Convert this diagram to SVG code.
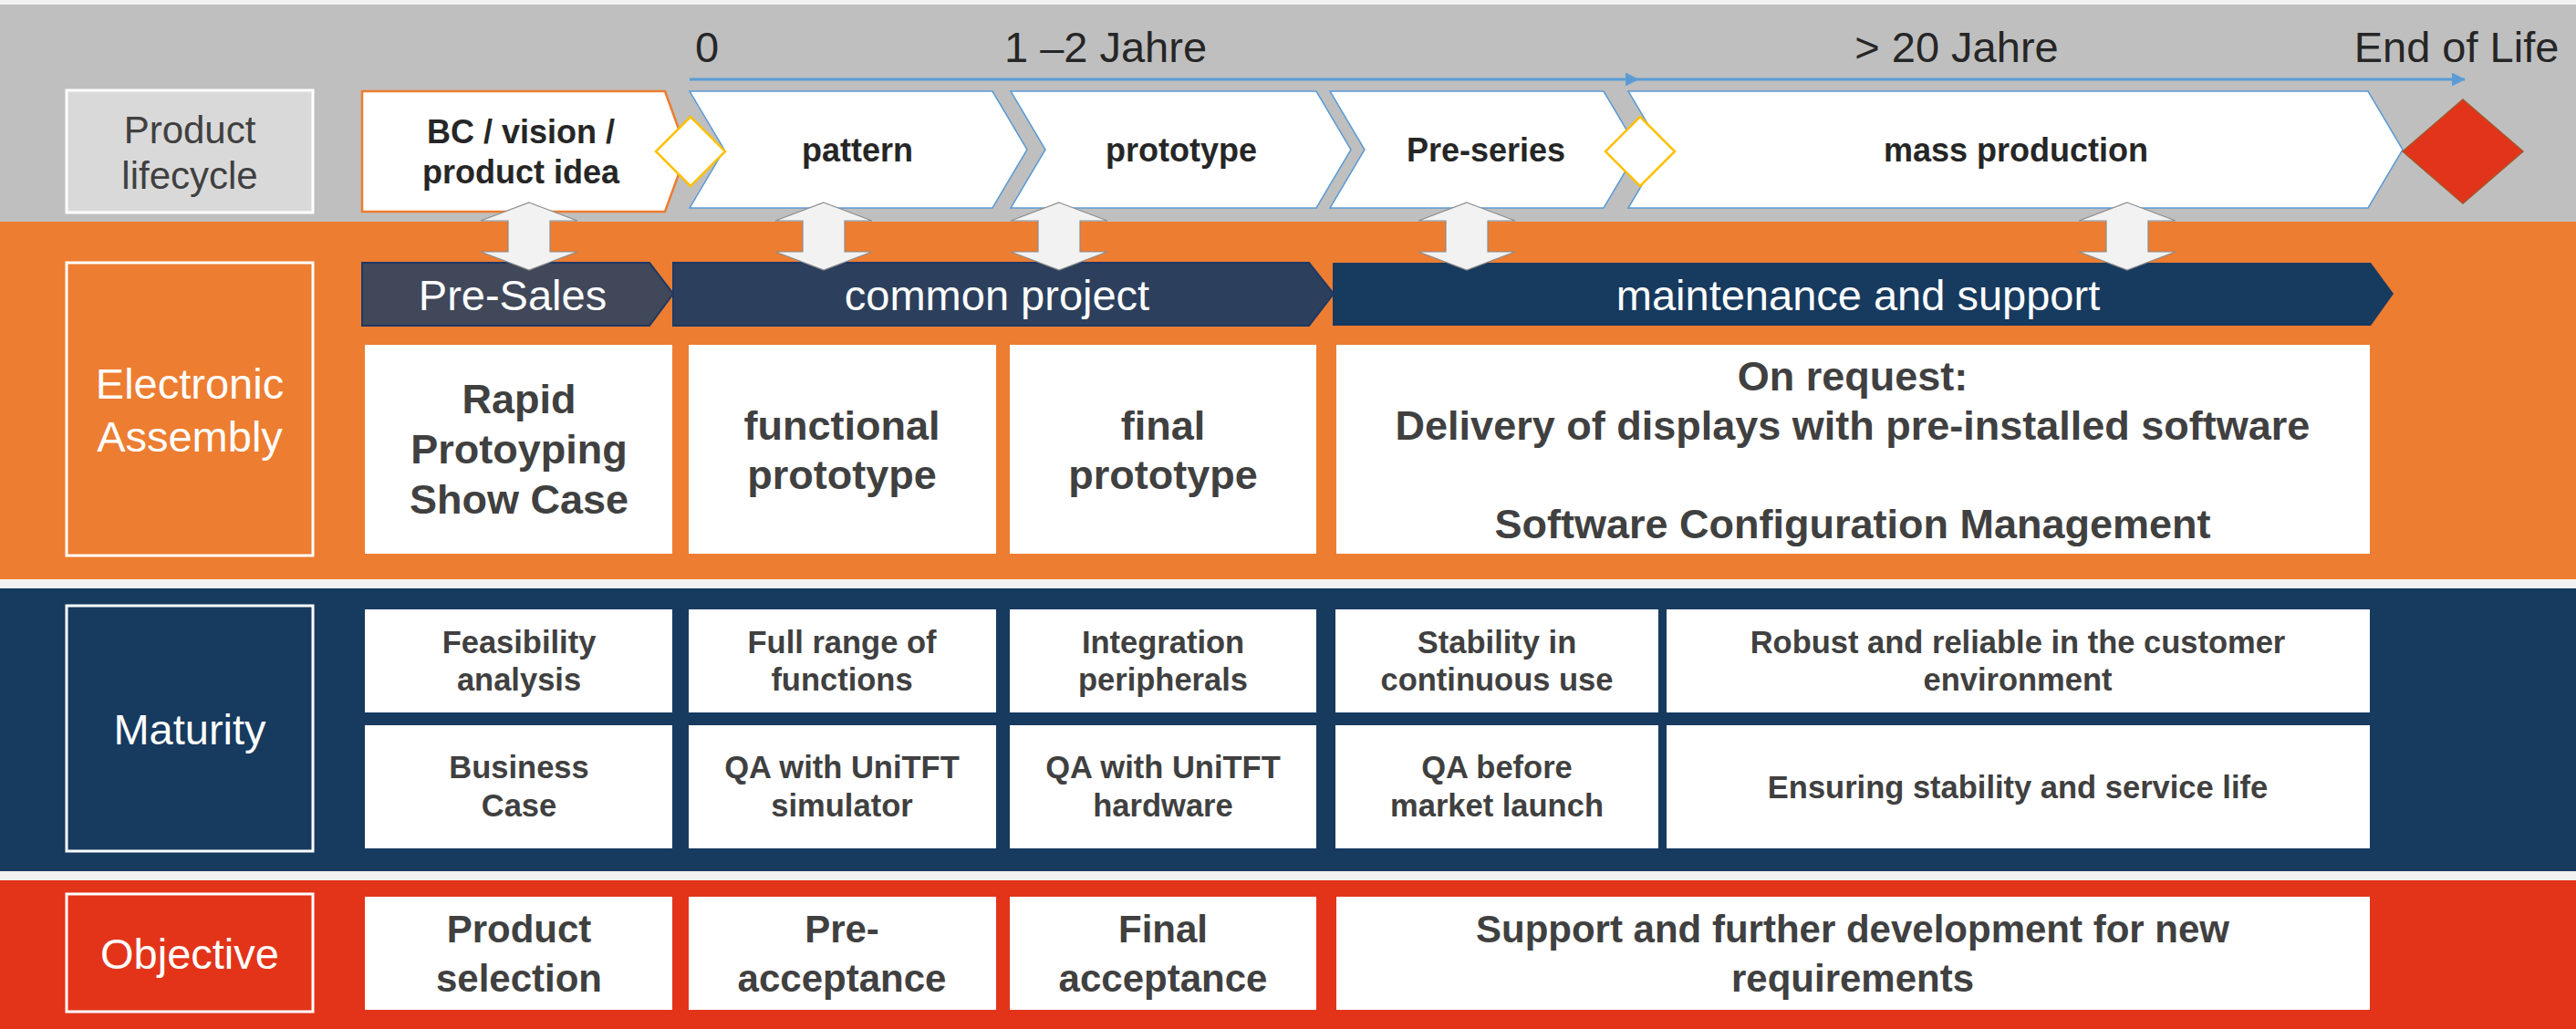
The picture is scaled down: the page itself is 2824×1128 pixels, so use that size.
<svg xmlns="http://www.w3.org/2000/svg" width="2824" height="1128" viewBox="0 0 2824 1128">
<style>
text{font-family:"Liberation Sans",Arial,sans-serif}
.tl{font-size:47px;fill:#262626;text-anchor:middle}
.chev{fill:#fff;stroke:#5b9bd5;stroke-width:1.5}
.chl{font-size:36px;font-weight:bold;fill:#262626;text-anchor:middle}
.lbl{font-size:47px;fill:#fff;text-anchor:middle}
.lbox{stroke:#fff;stroke-width:3}
.wb{fill:#fff}
.e{font-size:45px;font-weight:bold;fill:#404040;text-anchor:middle}
.m{font-size:34.5px;font-weight:bold;fill:#404040;text-anchor:middle}
.o{font-size:42px;font-weight:bold;fill:#404040;text-anchor:middle}
.ban{font-size:47px;fill:#fff;text-anchor:middle}
.darr{fill:#f2f2f2;stroke:#8c8c8c;stroke-width:1.2}
.ms{fill:#fff;stroke:#ffc000;stroke-width:2.5}
.tline{stroke:#5b9bd5;stroke-width:3;fill:none}
</style>
<defs>
<marker id="ah" markerWidth="5" markerHeight="5" refX="4.7" refY="2.5" orient="auto" markerUnits="strokeWidth">
<path d="M0,0 L5,2.5 L0,5 Z" fill="#5b9bd5"/>
</marker>
</defs>

<g id="background">
<rect x="0" y="0" width="2824" height="1128" fill="#f2f2f2"/>
<rect x="0" y="5" width="2824" height="238" fill="#bfbfbf"/>
<rect x="0" y="243" width="2824" height="392" fill="#ed7d31"/>
<rect x="0" y="645" width="2824" height="310" fill="#173a5f"/>
<rect x="0" y="965" width="2824" height="163" fill="#e3341a"/>
</g>

<g id="label-lifecycle">
<rect x="73" y="99" width="270" height="134" fill="#d9d9d9" class="lbox"/>
<text class="lbl" style="fill:#404040;font-size:42px" x="208" y="157">Product</text>
<text class="lbl" style="fill:#404040;font-size:42px" x="208" y="207">lifecycle</text>
</g>
<g id="label-electronic">
<rect x="73" y="288" width="270" height="321" fill="#ed7d31" class="lbox"/>
<text class="lbl" x="208" y="437">Electronic</text>
<text class="lbl" x="208" y="495">Assembly</text>
</g>
<g id="label-maturity">
<rect x="73" y="664" width="270" height="269" fill="#173a5f" class="lbox"/>
<text class="lbl" x="208" y="816">Maturity</text>
</g>
<g id="label-objective">
<rect x="73" y="980" width="270" height="129" fill="#e3341a" class="lbox"/>
<text class="lbl" x="208" y="1062">Objective</text>
</g>

<g id="timeline-labels">
<text class="tl" x="775" y="68">0</text>
<text class="tl" x="1212" y="68">1 –2 Jahre</text>
<text class="tl" x="2145" y="68">&gt; 20 Jahre</text>
<text class="tl" x="2693" y="68">End of Life</text>
</g>

<g id="phase-bc">
<path d="M397,100 L729,100 L753,166 L729,232 L397,232 Z" fill="#fff" stroke="#ed7d31" stroke-width="2.5"/>
<text class="chl" x="571" y="157">BC / vision /</text>
<text class="chl" x="571" y="201">product idea</text>
</g>
<g id="phase-pattern">
<path class="chev" d="M756,100 L1088,100 L1126,164 L1088,228 L756,228 L794,164 Z"/>
<text class="chl" x="940" y="177">pattern</text>
</g>
<g id="phase-prototype">
<path class="chev" d="M1108,100 L1443,100 L1481,164 L1443,228 L1108,228 L1146,164 Z"/>
<text class="chl" x="1295" y="177">prototype</text>
</g>
<g id="phase-preseries">
<path class="chev" d="M1458,100 L1758,100 L1796,164 L1758,228 L1458,228 L1496,164 Z"/>
<text class="chl" x="1629" y="177">Pre-series</text>
</g>
<g id="phase-mass">
<path class="chev" d="M1785,100 L2596,100 L2634,164 L2596,228 L1785,228 L1823,164 Z"/>
<text class="chl" x="2210" y="177">mass production</text>
</g>
<g id="milestone-1"><path class="ms" d="M757,128 L795,166 L757,204 L719,166 Z"/></g>
<g id="milestone-2"><path class="ms" d="M1798,128 L1836,166 L1798,204 L1760,166 Z"/></g>
<g id="end-of-life"><path d="M2700,109 L2766,166 L2700,223 L2634,166 Z" fill="#e2341b" stroke="#a5562a" stroke-width="1.5"/></g>

<g id="banner-presales">
<path d="M397,288 L712,288 L738,322 L712,357 L397,357 Z" fill="#404859" stroke="#1f3864" stroke-width="2"/>
<text class="ban" x="562" y="340">Pre-Sales</text>
</g>
<g id="banner-common">
<path d="M738,288 L1435,288 L1462,322 L1435,357 L738,357 Z" fill="#2c405d" stroke="#1f3864" stroke-width="2"/>
<text class="ban" x="1093" y="340">common project</text>
</g>
<g id="banner-maintenance">
<path d="M1461,288 L2599,288 L2624,322 L2599,357 L1461,357 Z" fill="#173a5f"/>
<text class="ban" x="2037" y="340">maintenance and support</text>
</g>

<g id="ea-col1">
<rect class="wb" x="400" y="378" width="337" height="229"/>
<text class="e" x="569" y="453">Rapid</text>
<text class="e" x="569" y="508">Protoyping</text>
<text class="e" x="569" y="563">Show Case</text>
</g>
<g id="ea-col2">
<rect class="wb" x="755" y="378" width="337" height="229"/>
<text class="e" x="923" y="482">functional</text>
<text class="e" x="923" y="536">prototype</text>
</g>
<g id="ea-col3">
<rect class="wb" x="1107" y="378" width="336" height="229"/>
<text class="e" x="1275" y="482">final</text>
<text class="e" x="1275" y="536">prototype</text>
</g>
<g id="ea-col4">
<rect class="wb" x="1465" y="378" width="1133" height="229"/>
<text class="e" x="2031" y="428">On request:</text>
<text class="e" x="2031" y="482">Delivery of displays with pre-installed software</text>
<text class="e" x="2031" y="590">Software Configuration Management</text>
</g>

<g id="mat-r1c1"><rect class="wb" x="400" y="668" width="337" height="113"/><text class="m" x="569" y="716">Feasibility</text><text class="m" x="569" y="757">analysis</text></g>
<g id="mat-r1c2"><rect class="wb" x="755" y="668" width="337" height="113"/><text class="m" x="923" y="716">Full range of</text><text class="m" x="923" y="757">functions</text></g>
<g id="mat-r1c3"><rect class="wb" x="1107" y="668" width="336" height="113"/><text class="m" x="1275" y="716">Integration</text><text class="m" x="1275" y="757">peripherals</text></g>
<g id="mat-r1c4"><rect class="wb" x="1464" y="668" width="354" height="113"/><text class="m" x="1641" y="716">Stability in</text><text class="m" x="1641" y="757">continuous use</text></g>
<g id="mat-r1c5"><rect class="wb" x="1827" y="668" width="771" height="113"/><text class="m" x="2212" y="716">Robust and reliable in the customer</text><text class="m" x="2212" y="757">environment</text></g>
<g id="mat-r2c1"><rect class="wb" x="400" y="795" width="337" height="135"/><text class="m" x="569" y="853">Business</text><text class="m" x="569" y="895">Case</text></g>
<g id="mat-r2c2"><rect class="wb" x="755" y="795" width="337" height="135"/><text class="m" x="923" y="853">QA with UniTFT</text><text class="m" x="923" y="895">simulator</text></g>
<g id="mat-r2c3"><rect class="wb" x="1107" y="795" width="336" height="135"/><text class="m" x="1275" y="853">QA with UniTFT</text><text class="m" x="1275" y="895">hardware</text></g>
<g id="mat-r2c4"><rect class="wb" x="1464" y="795" width="354" height="135"/><text class="m" x="1641" y="853">QA before</text><text class="m" x="1641" y="895">market launch</text></g>
<g id="mat-r2c5"><rect class="wb" x="1827" y="795" width="771" height="135"/><text class="m" x="2212" y="875">Ensuring stability and service life</text></g>

<g id="obj-col1"><rect class="wb" x="400" y="983" width="337" height="124"/><text class="o" x="569" y="1033">Product</text><text class="o" x="569" y="1087">selection</text></g>
<g id="obj-col2"><rect class="wb" x="755" y="983" width="337" height="124"/><text class="o" x="923" y="1033">Pre-</text><text class="o" x="923" y="1087">acceptance</text></g>
<g id="obj-col3"><rect class="wb" x="1107" y="983" width="336" height="124"/><text class="o" x="1275" y="1033">Final</text><text class="o" x="1275" y="1087">acceptance</text></g>
<g id="obj-col4"><rect class="wb" x="1465" y="983" width="1133" height="124"/><text class="o" x="2031" y="1033">Support and further development for new</text><text class="o" x="2031" y="1087">requirements</text></g>

<g id="connectors">
<line class="tline" x1="756" y1="87" x2="1796" y2="87" marker-end="url(#ah)"/>
<line class="tline" x1="1796" y1="87" x2="2702" y2="87" marker-end="url(#ah)"/>
<path class="darr" d="M580,222 L633,242 L603,242 L603,276 L633,276 L580,296 L527,276 L557,276 L557,242 L527,242 Z"/>
<path class="darr" d="M903,222 L956,242 L926,242 L926,276 L956,276 L903,296 L850,276 L880,276 L880,242 L850,242 Z"/>
<path class="darr" d="M1161,222 L1214,242 L1184,242 L1184,276 L1214,276 L1161,296 L1108,276 L1138,276 L1138,242 L1108,242 Z"/>
<path class="darr" d="M1608,222 L1661,242 L1631,242 L1631,276 L1661,276 L1608,296 L1555,276 L1585,276 L1585,242 L1555,242 Z"/>
<path class="darr" d="M2332,222 L2385,242 L2355,242 L2355,276 L2385,276 L2332,296 L2279,276 L2309,276 L2309,242 L2279,242 Z"/>
</g>
</svg>
